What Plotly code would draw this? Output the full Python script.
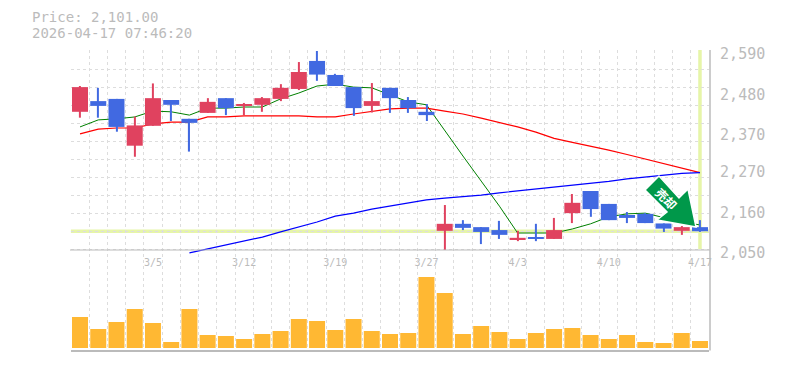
import plotly.graph_objects as go

W, H = 785, 370
opens = [2425,2454,2460,2333,2387,2457,2406,2422,2462,2441,2444,2460,2487,2563,2525,2492,2441,2490,2457,2425,2102,2121,2112,2104,2077,2085,2080,2150,2210,2175,2145,2148,2122,2102,2112]
closes = [2492,2441,2384,2388,2462,2444,2395,2452,2435,2446,2462,2490,2533,2526,2495,2435,2454,2462,2435,2416,2121,2110,2099,2091,2083,2080,2104,2178,2161,2131,2137,2123,2108,2112,2101]
highs = [2495,2490,2460,2412,2502,2457,2406,2462,2462,2449,2465,2500,2560,2590,2528,2492,2503,2490,2465,2446,2172,2131,2112,2129,2102,2121,2137,2202,2210,2175,2153,2150,2122,2115,2131]
lows = [2409,2409,2371,2303,2387,2400,2317,2422,2416,2416,2425,2454,2484,2509,2495,2414,2423,2422,2422,2400,2050,2104,2066,2080,2074,2074,2080,2123,2140,2131,2123,2123,2099,2091,2099]
ma_short = [2384,2403,2406,2411,2427,2425,2416,2435,2435,2438,2438,2460,2476,2495,2500,2492,2490,2471,2452,2444,2373,2305,2237,2169,2096,2097,2096,2107,2121,2140,2148,2150,2137,2126,2118]
ma_mid = [2365,2378,2381,2381,2392,2397,2397,2411,2411,2414,2414,2414,2414,2411,2411,2419,2425,2433,2435,2435,2427,2419,2408,2397,2384,2370,2353,2342,2332,2321,2309,2297,2283,2271,2260]
ma_long = [None]*6 + [2042,2053,2064,2074,2085,2099,2112,2126,2142,2150,2161,2169,2178,2186,2191,2194,2199,2205,2210,2214,2220,2224,2229,2236,2243,2248,2254,2258,2260]
volumes = [310,190,260,390,250,60,390,130,120,90,140,170,290,270,180,290,170,140,150,710,550,140,220,160,90,150,190,200,130,90,130,60,50,150,70]
date_idx = [4,9,14,19,24,29,34]
date_labels = ["3/5","3/12","3/19","3/27","4/3","4/10","4/17"]
price_ticks = [2590,2480,2370,2270,2160,2050]
price_labels = ["2,590","2,480","2,370","2,270","2,160","2,050"]
last_price = 2101
title_lines = ["Price: 2,101.00", "2026-04-17 07:46:20"]
signal_text = "売却"

GRID = "#dddddd"; AXIS = "#bbbbbb"; TEXT = "#bbbbbb"; UP = "#e0425f"; DOWN = "#4169e1"; HILITE = "#e6f5a8"
FONT = "DejaVu Sans Mono"
def px(x): return x / W
def py(y): return 1 - y / H

xs = list(range(len(opens)))
dom_x = [px(70.9), px(709.1)]
xr = [-0.5, 34.5]
grid_x = [k - 0.5 for k in range(36)]
grid_y = [2050 + k * 540 / 11 for k in range(12)]
yr = [2039.1, 2592.7]

fig = go.Figure()
for name, vals, col, w in [("MA short", ma_short, "#008000", 1), ("MA mid", ma_mid, "#ff0000", 1.2), ("MA long", ma_long, "#0000ff", 1.2)]:
    fig.add_trace(go.Scatter(x=xs, y=vals, mode="lines", name=name, line=dict(color=col, width=w), xaxis="x", yaxis="y"))

colors = [UP if c >= o else DOWN for o, c in zip(opens, closes)]
fig.add_trace(go.Bar(x=xs, base=lows, y=[h - l for h, l in zip(highs, lows)], width=0.06, marker=dict(color=colors, line_width=0), xaxis="x2", yaxis="y2", name="range"))
fig.add_trace(go.Bar(x=xs, base=[min(o, c) for o, c in zip(opens, closes)], y=[abs(c - o) for o, c in zip(opens, closes)], width=0.877, marker=dict(color=colors, line_width=0), xaxis="x2", yaxis="y2", name="body"))
fig.add_trace(go.Bar(x=xs, y=volumes, width=0.877, marker=dict(color="#ffb833", line_width=0), xaxis="x3", yaxis="y3", name="volume"))

gridx = dict(showgrid=True, gridcolor=GRID, griddash="3px,3px", gridwidth=1, tickmode="array", tickvals=grid_x, showticklabels=False, ticks="", zeroline=False, automargin=False)
fig.update_layout(
    template="none",
    width=W, height=H, margin=dict(l=0, r=0, t=0, b=0, pad=0, autoexpand=False), paper_bgcolor="white", plot_bgcolor="rgba(0,0,0,0)",
    showlegend=False, barmode="overlay", hovermode=False,
    xaxis=dict(domain=dom_x, range=xr, anchor="y", showline=False, **gridx),
    yaxis=dict(domain=[py(254), py(50)], range=yr, anchor="x", showgrid=True, gridcolor=GRID, griddash="3px,3px", gridwidth=1, automargin=False,
               tickmode="array", tickvals=grid_y, showticklabels=False, ticks="", zeroline=False, showline=False),
    xaxis2=dict(domain=dom_x, range=xr, overlaying="x", anchor="y2", side="bottom", showgrid=False, zeroline=False, showline=False, automargin=False,
                tickmode="array", tickvals=date_idx, ticktext=date_labels, ticks="", ticklabelstandoff=1,
                tickfont=dict(family=FONT, size=10, color=TEXT)),
    yaxis2=dict(domain=[py(254), py(50)], range=yr, overlaying="y", anchor="x2", side="right", showgrid=False, zeroline=False, showline=False, automargin=False,
                tickmode="array", tickvals=price_ticks, ticktext=price_labels, ticks="", ticklabelstandoff=10, ticklabelshift=3,
                tickfont=dict(family=FONT, size=15, color=TEXT)),
    xaxis3=dict(domain=dom_x, range=xr, anchor="y3", showline=True, linecolor=AXIS, linewidth=1.5, **gridx),
    yaxis3=dict(domain=[py(350), py(254)], range=[-20, 940], anchor="x3", showgrid=False, showticklabels=False, ticks="", zeroline=False, showline=False, automargin=False),
)

shapes = [
    dict(type="line", xref="x domain", yref="y", x0=0, x1=1, y0=last_price, y1=last_price, line=dict(color=HILITE, width=3.5), layer="below"),
    dict(type="line", xref="x", yref="paper", x0=34, x1=34, y0=py(50), y1=py(249), line=dict(color=HILITE, width=3.5), layer="below"),
    dict(type="line", xref="paper", yref="y", x0=px(70), x1=px(710), y0=2050, y1=2050, line=dict(color=AXIS, width=1.2), layer="above"),
    dict(type="line", xref="paper", yref="paper", x0=px(710), x1=px(710), y0=py(50), y1=py(350.5), line=dict(color=AXIS, width=1.5), layer="above"),
]
arrow_px = [(659, 176), (645, 190), (667, 212), (657, 220), (696, 227), (688, 189), (679, 198)]
path = "M " + " L ".join(f"{px(a):.5f} {py(b):.5f}" for a, b in arrow_px) + " Z"
shapes.append(dict(type="path", xref="paper", yref="paper", path=path, fillcolor="#00984a", line=dict(color="white", width=1.5), layer="above"))
fig.update_layout(shapes=shapes)

annots = [
    dict(xref="paper", yref="paper", x=px(30), y=py(17.5), text=title_lines[0], showarrow=False, xanchor="left", yanchor="middle", font=dict(family=FONT, size=14, color=TEXT)),
    dict(xref="paper", yref="paper", x=px(30), y=py(33.5), text=title_lines[1], showarrow=False, xanchor="left", yanchor="middle", font=dict(family=FONT, size=14, color=TEXT)),
    dict(xref="paper", yref="paper", x=px(667), y=py(198), text="<b>" + signal_text + "</b>", showarrow=False, textangle=45, xanchor="center", yanchor="middle", font=dict(family="Noto Sans CJK JP", size=12, color="white")),
]
fig.update_layout(annotations=annots)

fig.write_html("out.html", post_script="document.body.style.margin='0';", config={"displayModeBar": False})
